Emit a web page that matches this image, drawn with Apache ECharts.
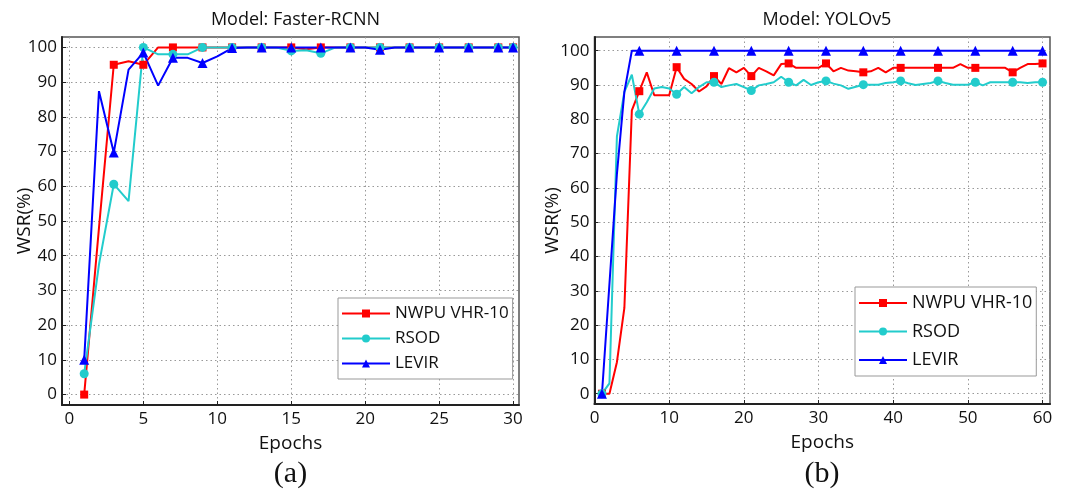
<!DOCTYPE html>
<html>
<head>
<meta charset="utf-8" />
<title>WSR vs Epochs</title>
<script src="https://cdn.jsdelivr.net/npm/echarts@6/dist/echarts.min.js"></script>
<style>
  html, body { margin: 0; padding: 0; background: #fff; }
  #main { width: 1065px; height: 493px; }
</style>
</head>
<body>
<div id="main"></div>
<script>
// tick labels
const xTicksA = [0, 5, 10, 15, 20, 25, 30];
const xTicksB = [0, 10, 20, 30, 40, 50, 60];
const yTicks = [0, 10, 20, 30, 40, 50, 60, 70, 80, 90, 100];
const seriesNames = ['NWPU VHR-10', 'RSOD', 'LEVIR'];

// (a) Faster-RCNN, WSR per epoch, epochs 1..30
const frcnnNwpu = [0, 48, 95, 96, 95, 100, 100, 100, 100, 100,
                   100, 100, 100, 100, 100, 99.5, 100, 100, 100, 100,
                   100, 100, 100, 100, 100, 100, 100, 100, 100, 100];
const frcnnRsod = [6, 37.5, 60.6, 55.7, 100, 98, 98, 98, 100, 100,
                   100, 100, 100, 100, 99, 99.2, 98.3, 100, 100, 100,
                   100, 100, 100, 100, 100, 100, 100, 100, 100, 100];
const frcnnLevir = [10, 87.4, 69.7, 93.6, 98.5, 89, 97, 97, 95.5, 97.4,
                    99.8, 100, 100, 100, 100, 100, 100, 100, 100, 100,
                    99.3, 100, 100, 100, 100, 100, 100, 100, 100, 100];

// (b) YOLOv5, WSR per epoch, epochs 1..60
const yoloNwpu = [0, 0, 9.2, 25, 82.6, 88.2, 93.7, 87, 87, 87,
                  95.2, 91.8, 90.3, 88.1, 89.6, 92.6, 90.3, 94.9, 93.7, 95,
                  92.6, 95, 94, 92.8, 96.1, 96.3, 95, 95, 95, 95,
                  96.3, 94, 95, 94.2, 94, 93.7, 94, 95, 93.7, 95,
                  95, 95, 95, 95, 95, 95, 95, 95, 96.1, 95,
                  95, 95, 95, 95, 95, 93.7, 95, 96.1, 96.1, 96.3];
const yoloRsod = [0, 3, 75, 88, 93, 81.5, 85, 89, 89.4, 89,
                  87.3, 89.4, 87.6, 89.4, 90.8, 90.8, 89.4, 89.9, 90.3, 89.4,
                  88.4, 89.9, 90.3, 90.8, 92.4, 90.8, 89.9, 91.5, 90, 90.8,
                  91.2, 90.4, 89.9, 88.9, 89.5, 90.1, 90.1, 90.1, 90.6, 90.8,
                  91.2, 90.5, 90, 90.3, 90.6, 91.2, 90.6, 90.1, 90.1, 90.1,
                  90.8, 89.9, 90.8, 90.8, 90.8, 90.8, 90.8, 90.6, 90.8, 90.8];
const yoloLevir = [0, 32, 64, 88, 100, 100, 100, 100, 100, 100,
                   100, 100, 100, 100, 100, 100, 100, 100, 100, 100,
                   100, 100, 100, 100, 100, 100, 100, 100, 100, 100,
                   100, 100, 100, 100, 100, 100, 100, 100, 100, 100,
                   100, 100, 100, 100, 100, 100, 100, 100, 100, 100,
                   100, 100, 100, 100, 100, 100, 100, 100, 100, 100];

const FONT = 'Open Sans';
const colors = ['#ff0000', '#22cccc', '#0000ff'];
const symbols = ['rect', 'circle', 'triangle'];
const symbolSizes = [8, 9, 10];

// markers only on some epochs (like the matlab plot)
const markA = (e, n) => e % 2 === 1 || e === n;
const markB = (e, n) => (e - 1) % 5 === 0 || e === n;

function makeSeries(k, vals, gi, markFn) {
    return {
        name: seriesNames[k],
        type: 'line',
        xAxisIndex: gi,
        yAxisIndex: gi,
        symbol: symbols[k],
        symbolSize: symbolSizes[k],
        showAllSymbol: true,
        data: vals.map((v, i) => {
            const item = {value: [i + 1, v]};
            if (!markFn(i + 1, vals.length)) item.symbol = 'none';
            return item;
        }),
        lineStyle: {color: colors[k], width: 2},
        itemStyle: {color: colors[k]},
        animation: false
    };
}

function xAxisOf(gi, min, max, ticks) {
    return {
        gridIndex: gi, type: 'value', min: min, max: max,
        name: 'Epochs', nameLocation: 'middle', nameGap: 29, nameMoveOverlap: false,
        nameTextStyle: {fontSize: 19, fontFamily: FONT, color: '#111'},
        axisLine: {show: true, onZero: false, lineStyle: {color: '#222', width: 2}},
        axisTick: {show: true, inside: true, length: 4, customValues: ticks, lineStyle: {color: '#222'}},
        axisLabel: {customValues: ticks, fontSize: 17, margin: 6, color: '#111', fontFamily: FONT},
        splitLine: {show: true, lineStyle: {type: [1.5, 3], color: '#999', width: 1}}
    };
}

function yAxisOf(gi, min, max, gap) {
    return {
        gridIndex: gi, type: 'value', min: min, max: max,
        name: 'WSR(%)', nameLocation: 'middle', nameGap: gap, nameMoveOverlap: false,
        nameTextStyle: {fontSize: 19, fontFamily: FONT, color: '#111'},
        axisLine: {show: true, onZero: false, lineStyle: {color: '#222', width: 2}},
        axisTick: {show: true, inside: true, length: 4, customValues: yTicks, lineStyle: {color: '#222'}},
        axisLabel: {customValues: yTicks, fontSize: 17, margin: 5, color: '#111', fontFamily: FONT},
        splitLine: {show: true, lineStyle: {type: [1.5, 3], color: '#999', width: 1}}
    };
}

function legendOf(left, top, fs, gap) {
    return {
        data: seriesNames, orient: 'vertical', left: left, top: top,
        itemWidth: 48, itemHeight: 10, itemGap: gap,
        padding: [7, 4, 7, 3],
        borderColor: '#999', borderWidth: 1, backgroundColor: '#fff',
        selectedMode: false,
        textStyle: {fontSize: fs, lineHeight: fs, fontFamily: FONT, color: '#111'}
    };
}

const titleStyle = {fontSize: 18, fontWeight: 'normal', fontFamily: FONT, color: '#111'};
const capStyle = {fontSize: 30, fontWeight: 'normal', fontFamily: 'Liberation Serif', color: '#111'};

let option = {
    backgroundColor: '#fff',
    title: [
        {text: 'Model: Faster-RCNN', left: 290.5, top: 6, textAlign: 'center', textStyle: titleStyle},
        {text: 'Model: YOLOv5', left: 822, top: 6, textAlign: 'center', textStyle: titleStyle},
        {text: '(a)', left: 290.5, top: 459, textAlign: 'center', textStyle: capStyle, padding: 0},
        {text: '(b)', left: 822, top: 459, textAlign: 'center', textStyle: capStyle, padding: 0}
    ],
    legend: [legendOf(338, 298, 17, 8), legendOf(855, 287, 18, 10.5)],
    grid: [
        {left: 62, top: 37, width: 457, height: 368, show: true, borderColor: '#555', borderWidth: 1.5},
        {left: 594.5, top: 37, width: 455.5, height: 367, show: true, borderColor: '#555', borderWidth: 1.5}
    ],
    xAxis: [xAxisOf(0, -0.5, 30.4, xTicksA), xAxisOf(1, 0, 61, xTicksB)],
    yAxis: [yAxisOf(0, -3, 103, 28), yAxisOf(1, -3, 104, 32)],
    series: [
        makeSeries(0, frcnnNwpu, 0, markA),
        makeSeries(1, frcnnRsod, 0, markA),
        makeSeries(2, frcnnLevir, 0, markA),
        makeSeries(0, yoloNwpu, 1, markB),
        makeSeries(1, yoloRsod, 1, markB),
        makeSeries(2, yoloLevir, 1, markB)
    ]
};

let myChart = echarts.init(document.getElementById('main'));
myChart.setOption(option);
</script>
</body>
</html>
